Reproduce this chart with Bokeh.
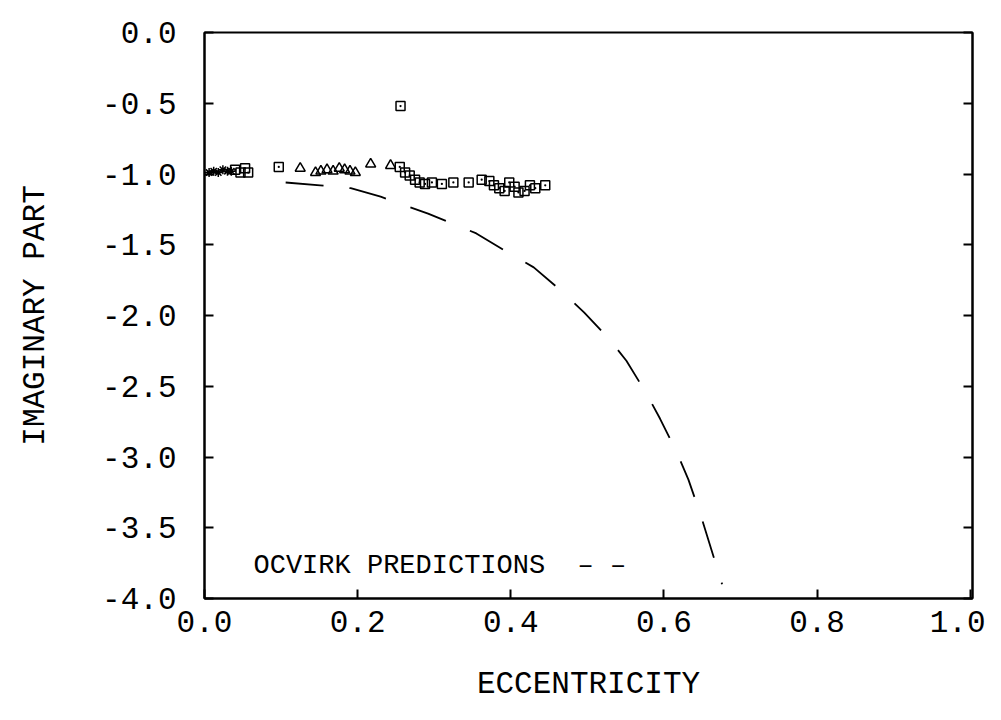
from bokeh.plotting import figure
from bokeh.models import FixedTicker, LinearAxis, Label, Range1d
from bokeh.embed import file_html
from bokeh.resources import INLINE

# ---- data ----
sq_e = [0.040, 0.047, 0.053, 0.057, 0.097, 0.256, 0.255, 0.262, 0.268, 0.275, 0.281,
        0.288, 0.297, 0.310, 0.325, 0.345, 0.362, 0.372, 0.378, 0.385, 0.392, 0.398,
        0.405, 0.410, 0.418, 0.425, 0.432, 0.445]
sq_y = [-0.97, -0.99, -0.96, -0.99, -0.95, -0.52, -0.95, -0.99, -1.01, -1.04, -1.06,
        -1.07, -1.06, -1.07, -1.06, -1.06, -1.04, -1.05, -1.08, -1.10, -1.12, -1.06,
        -1.09, -1.13, -1.12, -1.08, -1.10, -1.08]

tri_e = [0.125, 0.145, 0.152, 0.160, 0.168, 0.176, 0.183, 0.190, 0.197, 0.217, 0.243]
tri_y = [-0.96, -0.99, -0.98, -0.97, -0.98, -0.96, -0.97, -0.98, -0.99, -0.93, -0.94]

ast_e = [0.006, 0.012, 0.018, 0.024, 0.030, 0.035]
ast_y = [-0.99, -0.98, -0.99, -0.97, -0.98, -0.98]

ocvirk_e = [0.106, 0.151, 0.191, 0.230, 0.292, 0.355, 0.398, 0.430, 0.469, 0.496,
            0.529, 0.551, 0.577, 0.595, 0.617, 0.632, 0.648, 0.676]
ocvirk_y = [-1.06, -1.08, -1.10, -1.16, -1.28, -1.42, -1.56, -1.66, -1.84, -1.98,
            -2.17, -2.32, -2.55, -2.73, -2.97, -3.16, -3.41, -3.90]

x_ticks = [0.0, 0.2, 0.4, 0.6, 0.8, 1.0]
x_tick_labels = ["0.0", "0.2", "0.4", "0.6", "0.8", "1.0"]
y_ticks = [0.0, -0.5, -1.0, -1.5, -2.0, -2.5, -3.0, -3.5, -4.0]
y_tick_labels = ["0.0", "-0.5", "-1.0", "-1.5", "-2.0", "-2.5", "-3.0", "-3.5", "-4.0"]

FONT = "Liberation Mono"

p = figure(width=985, height=704, output_backend="svg", toolbar_location=None,
           x_range=Range1d(0, 1.003), y_range=Range1d(-4.0, 0.0),
           min_border_left=204, min_border_top=32, min_border_right=13,
           min_border_bottom=99)
p.background_fill_color = "white"
p.border_fill_color = "white"
p.grid.visible = False
p.outline_line_color = "black"
p.outline_line_width = 2

p.xaxis.ticker = FixedTicker(ticks=x_ticks)
p.xaxis.major_label_overrides = dict(zip(x_ticks, x_tick_labels))
p.yaxis.ticker = FixedTicker(ticks=y_ticks)
p.yaxis.major_label_overrides = dict(zip(y_ticks, y_tick_labels))

for ax in (p.xaxis, p.yaxis):
    ax.major_tick_in = 9
    ax.major_tick_out = 0
    ax.minor_tick_in = 0
    ax.minor_tick_out = 0
    ax.major_tick_line_width = 2
    ax.axis_line_width = 2
    ax.axis_line_color = "black"
    ax.major_tick_line_color = "black"
    ax.major_label_text_font = FONT
    ax.major_label_text_font_size = "31px"
    ax.major_label_text_color = "black"
    ax.axis_label_text_font = FONT
    ax.axis_label_text_font_size = "31px"
    ax.axis_label_text_font_style = "normal"
    ax.axis_label_text_color = "black"

p.xaxis.axis_label = "ECCENTRICITY"
p.yaxis.axis_label = "IMAGINARY PART"
p.xaxis.major_label_standoff = 12
p.yaxis.major_label_standoff = 28
p.xaxis.axis_label_standoff = 32
p.yaxis.axis_label_standoff = 46

right = LinearAxis(ticker=FixedTicker(ticks=y_ticks), major_tick_in=9, major_tick_out=0,
                   minor_tick_in=0, minor_tick_out=0, major_tick_line_width=2,
                   axis_line_width=2, major_label_standoff=0,
                   major_label_overrides={t: "" for t in y_ticks})
p.add_layout(right, "right")

p.line(ocvirk_e, ocvirk_y, line_color="black", line_width=1.8, line_dash="38 26")

p.scatter(sq_e, sq_y, marker="square_dot", size=9, line_color="black",
          fill_color=None, line_width=1.5)
p.scatter(tri_e, tri_y, marker="triangle", size=10, line_color="black",
          fill_color=None, line_width=1.5)
p.scatter(ast_e, ast_y, marker="asterisk", size=9, line_color="black",
          line_width=1.5)

p.add_layout(Label(x=0.064, y=-3.77,
                   text="OCVIRK PREDICTIONS\u00a0\u00a0\u2013\u00a0\u2013",
                   text_font=FONT, text_font_size="27px", text_baseline="middle",
                   text_color="black"))

open("out.html", "w").write(file_html(p, INLINE))
